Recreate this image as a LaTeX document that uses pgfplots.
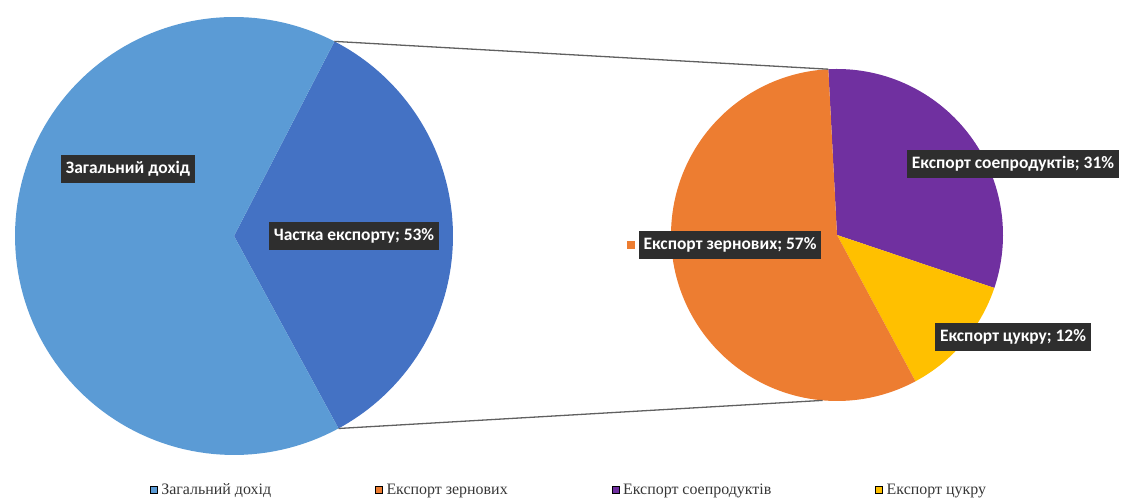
\documentclass[border=0pt]{standalone}
\usepackage{pgfplots}
\pgfplotsset{compat=1.18}
\usepackage{fontspec}
\setmainfont{Liberation Serif}
\newfontfamily\lblfont{Carlito}
\definecolor{cLight}{HTML}{5B9BD5}
\definecolor{cDark}{HTML}{4472C4}
\definecolor{cOrange}{HTML}{ED7D31}
\definecolor{cPurple}{HTML}{7030A0}
\definecolor{cYellow}{HTML}{FFC000}
\definecolor{lblbg}{HTML}{2E2E2E}
\definecolor{legtext}{HTML}{363636}
% --- data (shares of each pie, in %) ---
\def\LeftIncome{65.5}   % Загальний дохід (visual share)
\def\LeftExport{34.5}   % Частка експорту (visual share)
\def\RGrain{57}         % Експорт зернових
\def\RCoprod{31}        % Експорт соепродуктів
\def\RSugar{12}         % Експорт цукру
% geometry (picture units = px)
\def\Lcx{234}\def\Lcy{268}\def\Lr{219}
\def\Rcx{837}\def\Rcy{269}\def\Rr{166}
\begin{document}
\begin{tikzpicture}
\pgfmathsetmacro{\La}{-61.5}
\pgfmathsetmacro{\Lb}{\La+3.6*\LeftExport}
\pgfmathsetmacro{\Lc}{\Lb+3.6*\LeftIncome}
\pgfmathsetmacro{\Ra}{93}
\pgfmathsetmacro{\Rb}{\Ra-3.6*\RCoprod}
\pgfmathsetmacro{\Rc}{\Rb-3.6*\RSugar}
\pgfmathsetmacro{\Rd}{\Rc-3.6*\RGrain}
\begin{axis}[
  x=1bp, y=1bp, xmin=0, xmax=1125, ymin=0, ymax=504,
  hide axis, clip=false, scale only axis,
  legend columns=4,
  legend image code/.code={\fill[#1] (0bp,-3.5bp) rectangle (7bp,3.5bp);},
  legend style={at={(axis cs:569,14)}, anchor=center, draw=none, fill=none,
    font=\fontsize{16}{18}\selectfont, text=legtext,
    /tikz/every even column/.append style={column sep=102bp},
    /tikz/every odd column/.append style={column sep=2bp}},
]
\path (axis cs:0,0) rectangle (axis cs:1125,504);
% left pie
\addplot[forget plot, fill=cDark, draw=none, domain=\La:\Lb, samples=80, variable=\t]
  ({\Lcx+\Lr*cos(t)}, {\Lcy+\Lr*sin(t)}) -- (axis cs:\Lcx,\Lcy) -- cycle;
\addplot[forget plot, fill=cLight, draw=none, domain=\Lb:\Lc, samples=120, variable=\t]
  ({\Lcx+\Lr*cos(t)}, {\Lcy+\Lr*sin(t)}) -- (axis cs:\Lcx,\Lcy) -- cycle;
% right pie
\addplot[forget plot, fill=cPurple, draw=none, domain=\Rb:\Ra, samples=80, variable=\t]
  ({\Rcx+\Rr*cos(t)}, {\Rcy+\Rr*sin(t)}) -- (axis cs:\Rcx,\Rcy) -- cycle;
\addplot[forget plot, fill=cYellow, draw=none, domain=\Rc:\Rb, samples=40, variable=\t]
  ({\Rcx+\Rr*cos(t)}, {\Rcy+\Rr*sin(t)}) -- (axis cs:\Rcx,\Rcy) -- cycle;
\addplot[forget plot, fill=cOrange, draw=none, domain=\Rd:\Rc, samples=120, variable=\t]
  ({\Rcx+\Rr*cos(t)}, {\Rcy+\Rr*sin(t)}) -- (axis cs:\Rcx,\Rcy) -- cycle;
% connector lines
\addplot[forget plot, color=gray!75!black, line width=1.3bp] coordinates {(334.4,462.6) (828.3,434.8)};
\addplot[forget plot, color=gray!75!black, line width=1.3bp] coordinates {(338.5,75.5) (822.5,103.6)};
% legend
\addlegendimage{fill=cLight}\addlegendentry{Загальний дохід}
\addlegendimage{fill=cOrange}\addlegendentry{Експорт зернових}
\addlegendimage{fill=cPurple}\addlegendentry{Експорт соепродуктів}
\addlegendimage{fill=cYellow}\addlegendentry{Експорт цукру}
% data labels
\tikzset{dl/.style={fill=lblbg, text=white, font=\lblfont\bfseries\fontsize{17.5}{19}\selectfont,
  inner xsep=5bp, inner ysep=6bp, text height=12bp, text depth=3.5bp}}
\node[dl] at (axis cs:128,335) {Загальний дохід};
\node[dl] at (axis cs:354,268) {Частка експорту; 53\%};
\node[dl, label={[text=cOrange, inner sep=3bp]left:\rule{8bp}{8bp}}] at (axis cs:730,259) {Експорт зернових; 57\%};
\node[dl] at (axis cs:1013,340) {Експорт соепродуктів; 31\%};
\node[dl] at (axis cs:1013,167) {Експорт цукру; 12\%};
\end{axis}
\end{tikzpicture}
\end{document}
